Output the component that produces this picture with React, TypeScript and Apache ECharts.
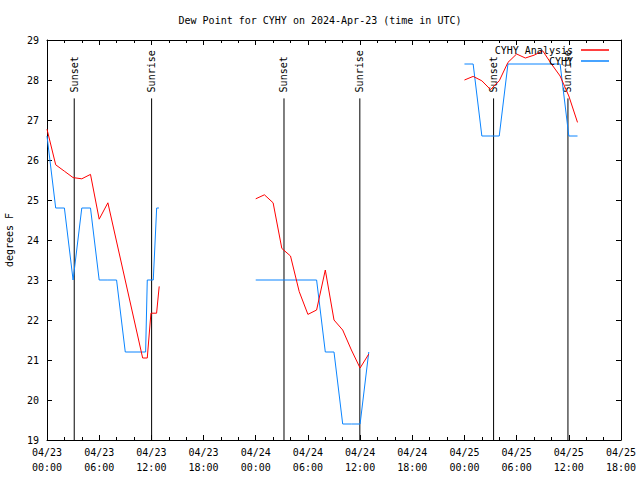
import React, { useEffect, useRef } from "react";
import * as echarts from "echarts";

// Hours since 2024-04-23 00:00 UTC
const tickLabels = [
  "04/23\n00:00", "04/23\n06:00", "04/23\n12:00", "04/23\n18:00",
  "04/24\n00:00", "04/24\n06:00", "04/24\n12:00", "04/24\n18:00",
  "04/25\n00:00", "04/25\n06:00", "04/25\n12:00", "04/25\n18:00",
];

// CYHY Analysis (red)
const analysisDay1Hours = [0, 1, 2, 3, 4, 5, 6, 7, 11, 11.53, 11.95, 12.6, 12.9];
const analysisDay1Values = [26.77, 25.88, 25.72, 25.56, 25.53, 25.64, 24.52, 24.93, 21.05, 21.05, 22.17, 22.17, 22.84];
const analysisDay2Hours = [24, 25, 26, 27, 28, 29, 30, 31, 32, 33, 34, 35, 36, 37];
const analysisDay2Values = [25.03, 25.13, 24.93, 23.79, 23.6, 22.71, 22.14, 22.25, 23.25, 22.0, 21.75, 21.25, 20.8, 21.15];
const analysisDay3Hours = [48, 49, 50, 51, 52, 53, 54, 55, 56, 57, 58, 59, 60, 61];
const analysisDay3Values = [28.0, 28.09, 27.98, 27.76, 27.98, 28.44, 28.65, 28.55, 28.62, 28.73, 28.4, 28.1, 27.6, 26.94];

// CYHY observations (blue)
const obsDay1Hours = [0, 1, 2, 3, 4, 5, 6, 7, 8, 9, 10, 11, 11.34, 11.53, 12.22, 12.61, 12.87];
const obsDay1Values = [26.6, 24.8, 24.8, 23.0, 24.8, 24.8, 23.0, 23.0, 23.0, 21.2, 21.2, 21.2, 21.2, 23.0, 23.0, 24.8, 24.8];
const obsDay2Hours = [24, 31, 32, 33, 34, 35, 36, 37];
const obsDay2Values = [23.0, 23.0, 21.2, 21.2, 19.4, 19.4, 19.4, 21.2];
const obsDay3Hours = [48, 49, 50, 51, 52, 53, 59, 60, 61];
const obsDay3Values = [28.4, 28.4, 26.6, 26.6, 26.6, 28.4, 28.4, 26.6, 26.6];

// Sun events
const sunHours = [3.13, 12.03, 27.25, 35.97, 51.35, 59.9];
const sunLabels = ["Sunset", "Sunrise", "Sunset", "Sunrise", "Sunset", "Sunrise"];

const FONT = "DejaVu Sans Mono";

function joinSegments(segs: [number[], number[]][]) {
  const out: any[] = [];
  segs.forEach(([h, v], i) => {
    if (i > 0) out.push([h[0] - 0.5, "-"]);
    h.forEach((x, j) => out.push([x, v[j]]));
  });
  return out;
}

export default function App() {
  const ref = useRef<HTMLDivElement>(null);
  useEffect(() => {
    if (!ref.current) return;
    const chart = echarts.init(ref.current, undefined, { renderer: "svg" });
    const analysisData = joinSegments([
      [analysisDay1Hours, analysisDay1Values],
      [analysisDay2Hours, analysisDay2Values],
      [analysisDay3Hours, analysisDay3Values],
    ]);
    const obsData = joinSegments([
      [obsDay1Hours, obsDay1Values],
      [obsDay2Hours, obsDay2Values],
      [obsDay3Hours, obsDay3Values],
    ]);
    const sunData = sunHours.map((h, i) => [h, i]);

    const xCommon = {
      type: "value",
      min: 0,
      max: 66,
      interval: 6,
      splitLine: { show: false },
      axisLine: { show: true, onZero: false, lineStyle: { color: "#000", width: 1 } },
      axisTick: { show: true, inside: true, length: 5, lineStyle: { color: "#000" } },
      minorTick: { show: true, splitNumber: 3, length: 3, lineStyle: { color: "#000" } },
      minorSplitLine: { show: false },
    };
    const yCommon = {
      type: "value",
      min: 19,
      max: 29,
      interval: 1,
      splitLine: { show: false },
      axisLine: { show: true, onZero: false, lineStyle: { color: "#000", width: 1 } },
      axisTick: { show: true, inside: true, length: 5, lineStyle: { color: "#000" } },
    };

    chart.setOption({
      animation: false,
      backgroundColor: "#fff",
      title: {
        text: "Dew Point for CYHY on 2024-Apr-23 (time in UTC)",
        left: "center",
        top: 10,
        textStyle: { fontFamily: FONT, fontSize: 10, fontWeight: "normal", color: "#000" },
      },
      grid: { left: 47, right: 19, top: 40, bottom: 40, containLabel: false, outerBoundsMode: "none" },
      legend: {
        data: ["CYHY Analysis", "CYHY"],
        orient: "vertical",
        right: 26,
        top: 40,
        align: "right",
        icon: "rect",
        itemWidth: 28,
        itemHeight: 1.5,
        itemGap: 1,
        textStyle: { fontFamily: FONT, fontSize: 10, color: "#000", padding: [0, 3, 0, 0] },
      },
      xAxis: [
        {
          ...xCommon,
          position: "bottom",
          axisLabel: {
            show: true,
            fontFamily: FONT,
            fontSize: 10,
            color: "#000",
            lineHeight: 15,
            margin: 5,
            formatter: (v: number) => tickLabels[Math.round(v / 6)] ?? "",
          },
        },
        { ...xCommon, position: "top", axisLabel: { show: false } },
      ],
      yAxis: [
        {
          ...yCommon,
          position: "left",
          name: "degrees F",
          nameLocation: "middle",
          nameGap: 33,
          nameTextStyle: { fontFamily: FONT, fontSize: 10, color: "#000" },
          axisLabel: { show: true, fontFamily: FONT, fontSize: 10, color: "#000", margin: 8 },
        },
        { ...yCommon, position: "right", axisLabel: { show: false } },
      ],
      series: [
        {
          name: "CYHY Analysis",
          type: "line",
          data: analysisData,
          showSymbol: false,
          connectNulls: false,
          lineStyle: { color: "#ff0000", width: 1 },
          itemStyle: { color: "#ff0000" },
          z: 3,
        },
        {
          name: "CYHY",
          type: "line",
          data: obsData,
          showSymbol: false,
          connectNulls: false,
          lineStyle: { color: "#0a84ff", width: 1 },
          itemStyle: { color: "#0a84ff" },
          z: 2,
        },
        {
          name: "sun",
          type: "custom",
          data: sunData,
          z: 1,
          renderItem: (params: any, api: any) => {
            const x = api.value(0);
            const idx = api.value(1);
            const top = api.coord([x, 27.54]);
            const bot = api.coord([x, 19]);
            return {
              type: "group",
              children: [
                {
                  type: "line",
                  shape: { x1: top[0], y1: top[1], x2: bot[0], y2: bot[1] },
                  style: { stroke: "#000", lineWidth: 1 },
                },
                {
                  type: "text",
                  x: top[0],
                  y: top[1] - 6,
                  rotation: Math.PI / 2,
                  style: {
                    text: sunLabels[idx],
                    textAlign: "left",
                    textVerticalAlign: "middle",
                    font: `10px "${FONT}"`,
                    fill: "#000",
                  },
                },
              ],
            };
          },
        },
      ],
    });
    return () => chart.dispose();
  }, []);
  return (
    <div
      ref={ref}
      style={{ position: "fixed", left: 0, top: 0, width: 640, height: 480, background: "#fff" }}
    />
  );
}
